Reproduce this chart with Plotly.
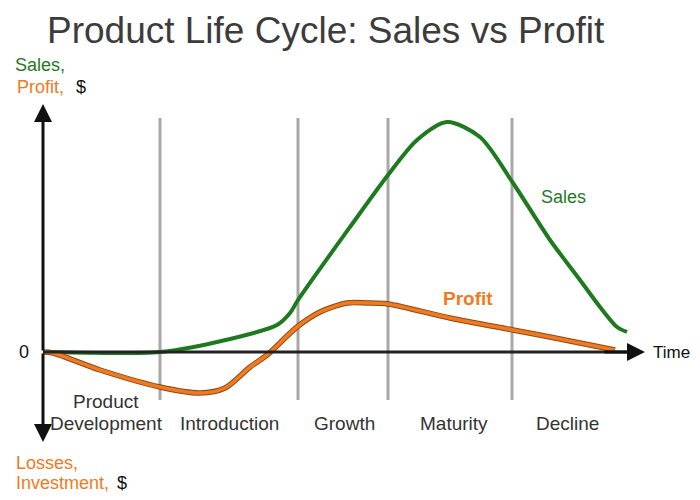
import plotly.graph_objects as go

# Time units (arbitrary), sales/profit in arbitrary $ units
sales_t = [7, 117, 174, 234, 247, 255, 307, 345, 374, 404, 437, 470, 507, 537, 557, 574, 584]
sales_v = [0, 0, 10, 27, 39, 52, 125, 177, 212, 230, 215, 169, 112, 72, 45, 25, 20]

profit_t = [0, 10, 57, 117, 157, 182, 207, 224, 254, 277, 304, 324, 345, 407, 470, 507, 572]
profit_v = [0, -1, -18, -35, -41, -36, -15, -3, 25, 40, 49, 49, 48, 34, 22, 15, 2]

phase_bounds = [117, 255, 345, 469]
phase_names = ["Introduction", "Growth", "Maturity", "Decline"]
phase_centers = [186, 301, 411, 524]

GREEN = "#1f7a1f"
ORANGE = "#f07a1e"
TEXT = "#333333"
FONT = "Liberation Sans, Arial"

fig = go.Figure()

# vertical phase lines
for b in phase_bounds:
    fig.add_shape(type="line", x0=b, x1=b, y0=-48, y1=234,
                  line=dict(color="#a8a8a8", width=3), layer="below")

# x axis line
fig.add_shape(type="line", x0=0, x1=590, y0=0, y1=0, line=dict(color="#222222", width=3))

# Sales
fig.add_trace(go.Scatter(x=sales_t, y=sales_v, mode="lines",
                         line=dict(color=GREEN, width=4, shape="spline", smoothing=0.8), hoverinfo="skip"))
# Profit (dark outline + orange)
fig.add_trace(go.Scatter(x=profit_t, y=profit_v, mode="lines",
                         line=dict(color="#8a4a1a", width=5.5, shape="spline", smoothing=0.8), hoverinfo="skip"))
fig.add_trace(go.Scatter(x=profit_t, y=profit_v, mode="lines",
                         line=dict(color=ORANGE, width=3.6, shape="spline", smoothing=0.8), hoverinfo="skip"))

ann = []
# arrows
for (tx, ty, sx, sy) in [(0, 248, 0, 0), (0, -90, 0, 0), (602, 0, 560, 0)]:
    ann.append(dict(x=tx, y=ty, ax=sx, ay=sy, xref="x", yref="y", axref="x", ayref="y",
                    text="", showarrow=True, arrowhead=2, arrowsize=1.2, arrowwidth=3, arrowcolor="#111111"))


def txt(s, x, y, color=TEXT, size=19, bold=False, xanchor="center"):
    if bold:
        s = "<b>" + s + "</b>"
    ann.append(dict(text=s, x=x, y=y, xref="x", yref="y", showarrow=False, xanchor=xanchor, yanchor="middle",
                    font=dict(family=FONT, size=size, color=color)))


txt("Product Life Cycle: Sales vs Profit", 283, 322, "#3c3c3c", 37)
txt("Sales,", -30, 287, GREEN, 18, xanchor="left")
txt("Profit,", -28, 265, ORANGE, 18, xanchor="left")
txt("$", 31, 265, "#111111", 18, xanchor="left")
txt("0", -19, 0, "#111111", 18)
txt("Time", 608, 0, "#111111", 17, xanchor="left")
txt("Sales", 520, 155, GREEN, 18)
txt("Profit", 425, 54, ORANGE, bold=True)
txt("Losses,", -29, -111, ORANGE, 18, xanchor="left")
txt("Investment,", -29, -131, ORANGE, 18, xanchor="left")
txt("$", 72, -131, "#111111", 18, xanchor="left")
txt("Product", 63, -49, TEXT)
txt("Development", 63, -71, TEXT)

for name, cx in zip(phase_names, phase_centers):
    txt(name, cx, -71, TEXT)

# page body has an 8px margin, so the 684x484 figure covers reference pixels 8..692 / 8..492
fig.update_layout(
    width=684, height=484, margin=dict(l=0, r=0, t=0, b=0),
    paper_bgcolor="white", plot_bgcolor="white", showlegend=False,
    xaxis=dict(range=[-35, 649], visible=False, fixedrange=True),
    yaxis=dict(range=[-140, 344], visible=False, fixedrange=True),
    annotations=ann,
)

fig.write_html("out.html")
